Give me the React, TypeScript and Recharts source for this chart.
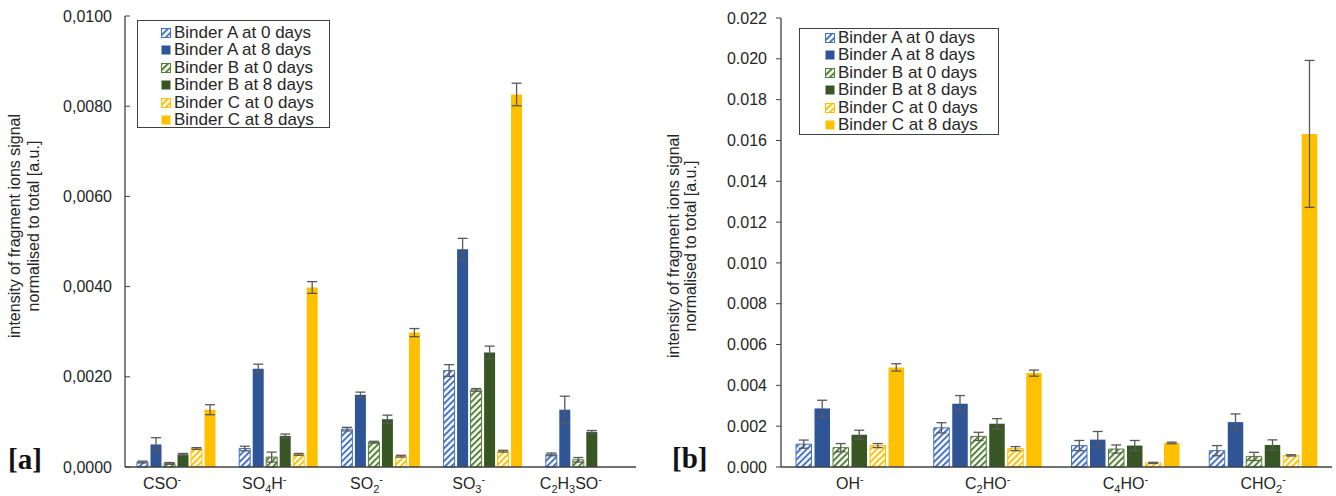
import { BarChart, Bar, XAxis, YAxis, ErrorBar, Legend } from 'recharts'

// [a] sulfur-containing fragments
const LEFT_CATEGORIES = ['CSO^-', 'SO_4H^-', 'SO_2^-', 'SO_3^-', 'C_2H_3SO^-']
const LEFT_A0 = [0.00011, 0.00041, 0.00084, 0.00214, 0.00028]
const LEFT_A0_ERR = [0.00002, 0.00005, 0.00004, 0.00013, 0.00003]
const LEFT_A8 = [0.0005, 0.00218, 0.0016, 0.00483, 0.00127]
const LEFT_A8_ERR = [0.00015, 0.0001, 0.00006, 0.00024, 0.0003]
const LEFT_B0 = [0.00008, 0.00022, 0.00055, 0.00171, 0.00016]
const LEFT_B0_ERR = [0.00002, 0.00011, 0.00002, 0.00003, 0.00005]
const LEFT_B8 = [0.00028, 0.00069, 0.00106, 0.00254, 0.00078]
const LEFT_B8_ERR = [0.00002, 0.00004, 0.00009, 0.00014, 0.00003]
const LEFT_C0 = [0.00041, 0.00028, 0.00024, 0.00035, 0]
const LEFT_C0_ERR = [0.00002, 0.00002, 0.00002, 0.00002, 0]
const LEFT_C8 = [0.00127, 0.00398, 0.00298, 0.00826, 0]
const LEFT_C8_ERR = [0.00011, 0.00013, 0.00009, 0.00025, 0]
const LEFT_TICKS = [0, 0.002, 0.004, 0.006, 0.008, 0.01]

// [b] oxygen-containing fragments
const RIGHT_CATEGORIES = ['OH^-', 'C_2HO^-', 'C_4HO^-', 'CHO_2^-']
const RIGHT_A0 = [0.00112, 0.00192, 0.00105, 0.0008]
const RIGHT_A0_ERR = [0.0002, 0.00025, 0.00025, 0.00025]
const RIGHT_A8 = [0.00287, 0.0031, 0.00134, 0.0022]
const RIGHT_A8_ERR = [0.0004, 0.0004, 0.0004, 0.0004]
const RIGHT_B0 = [0.00095, 0.0015, 0.00088, 0.00052]
const RIGHT_B0_ERR = [0.0002, 0.0002, 0.0002, 0.0002]
const RIGHT_B8 = [0.00158, 0.00212, 0.00105, 0.00108]
const RIGHT_B8_ERR = [0.00022, 0.00025, 0.00025, 0.00025]
const RIGHT_C0 = [0.00105, 0.0009, 0.0002, 0.00057]
const RIGHT_C0_ERR = [0.0001, 0.0001, 0.00003, 0.00003]
const RIGHT_C8 = [0.00488, 0.0046, 0.00118, 0.01632]
const RIGHT_C8_ERR = [0.00018, 0.00015, 0.00004, 0.0036]
const RIGHT_TICKS = [0, 0.002, 0.004, 0.006, 0.008, 0.01, 0.012, 0.014, 0.016, 0.018, 0.02, 0.022]

const SERIES = [
  { key: 'a0', name: 'Binder A at 0 days', color: '#4472C4', hatched: true },
  { key: 'a8', name: 'Binder A at 8 days', color: '#2F5597', hatched: false },
  { key: 'b0', name: 'Binder B at 0 days', color: '#548235', hatched: true },
  { key: 'b8', name: 'Binder B at 8 days', color: '#375623', hatched: false },
  { key: 'c0', name: 'Binder C at 0 days', color: '#FFC000', hatched: true },
  { key: 'c8', name: 'Binder C at 8 days', color: '#FFC000', hatched: false },
]

const FONT = '"Liberation Sans", Arial, sans-serif'
const AXIS = '#404040'
const TEXT = '#262626'
const ERR = '#595959'

const LEFT_PLOT_X = 125
const RIGHT_PLOT_X = 131

function buildRows(cats: string[], cols: number[][][]) {
  return cats.map((cat, i) => {
    const row: Record<string, any> = { cat }
    SERIES.forEach((s, k) => {
      row[s.key] = cols[k][0][i]
      row[s.key + 'Err'] = cols[k][1][i]
    })
    return row
  })
}

const leftData = buildRows(LEFT_CATEGORIES, [
  [LEFT_A0, LEFT_A0_ERR], [LEFT_A8, LEFT_A8_ERR], [LEFT_B0, LEFT_B0_ERR],
  [LEFT_B8, LEFT_B8_ERR], [LEFT_C0, LEFT_C0_ERR], [LEFT_C8, LEFT_C8_ERR],
])
const rightData = buildRows(RIGHT_CATEGORIES, [
  [RIGHT_A0, RIGHT_A0_ERR], [RIGHT_A8, RIGHT_A8_ERR], [RIGHT_B0, RIGHT_B0_ERR],
  [RIGHT_B8, RIGHT_B8_ERR], [RIGHT_C0, RIGHT_C0_ERR], [RIGHT_C8, RIGHT_C8_ERR],
])

// "SO_4H^-" -> SO, sub 4, H, sup -
function formula(label: string) {
  const segs: { t: string; k: string }[] = []
  let i = 0
  while (i < label.length) {
    const ch = label[i]
    if (ch === '_' || ch === '^') {
      segs.push({ t: label[i + 1], k: ch })
      i += 2
    } else {
      const last = segs[segs.length - 1]
      if (last && last.k === '') last.t += ch
      else segs.push({ t: ch, k: '' })
      i++
    }
  }
  let shift = 0
  return segs.map((s, j) => {
    const target = s.k === '_' ? 4 : s.k === '^' ? -6 : 0
    const dy = target - shift
    shift = target
    return (
      <tspan key={j} dy={dy} fontSize={s.k ? 11 : 16}>
        {s.t}
      </tspan>
    )
  })
}

function XTick({ x, y, payload, dx = 0 }: any) {
  return (
    <text x={x + dx} y={y + 22} textAnchor="middle" fill={TEXT} fontSize={16} fontFamily={FONT}>
      {formula(payload.value)}
    </text>
  )
}

function LeftYTick({ y, payload }: any) {
  return (
    <g>
      <line x1={LEFT_PLOT_X} x2={LEFT_PLOT_X + 5} y1={y} y2={y} stroke={AXIS} strokeWidth={1} />
      <text x={LEFT_PLOT_X - 13} y={y} dy={5.5} textAnchor="end" fill={TEXT} fontSize={16} fontFamily={FONT}>
        {payload.value.toFixed(4).replace('.', ',')}
      </text>
    </g>
  )
}

function Patterns({ prefix }: { prefix: string }) {
  return (
    <defs>
      {SERIES.filter(s => s.hatched).map(s => (
        <pattern
          key={s.key}
          id={`${prefix}-${s.key}`}
          patternUnits="userSpaceOnUse"
          width={4.5}
          height={4.5}
          patternTransform="rotate(45)"
        >
          <rect width={4.5} height={4.5} fill="#fff" />
          <rect width={2} height={4.5} fill={s.color} />
        </pattern>
      ))}
    </defs>
  )
}

function LegendBox({ prefix, width, height, padLeft, padTop }: any) {
  return (
    <div
      style={{
        width, height, boxSizing: 'border-box', border: `1px solid ${AXIS}`, background: '#fff',
        paddingLeft: padLeft, paddingTop: padTop, fontFamily: FONT, fontSize: 17, color: TEXT,
      }}
    >
      {SERIES.map(s => (
        <div key={s.key} style={{ display: 'flex', alignItems: 'center', height: 17.5, whiteSpace: 'nowrap' }}>
          <svg width={10} height={10} style={{ marginRight: 3 }}>
            <rect
              x={0.5} y={0.5} width={9} height={9}
              fill={s.hatched ? `url(#${prefix}-${s.key})` : s.color}
              stroke={s.color} strokeWidth={s.hatched ? 1 : 0}
            />
          </svg>
          <span>{s.name}</span>
        </div>
      ))}
    </div>
  )
}

function YTitle({ x1, x2, cy }: { x1: number; x2: number; cy: number }) {
  return (
    <g fill={TEXT} fontSize={16} fontFamily={FONT} textAnchor="middle">
      <text x={x1} y={cy} transform={`rotate(-90 ${x1} ${cy})`}>intensity of fragment ions signal</text>
      <text x={x2} y={cy} transform={`rotate(-90 ${x2} ${cy})`}>normalised to total [a.u.]</text>
    </g>
  )
}

function renderBars(prefix: string) {
  return SERIES.map(s => (
    <Bar
      key={s.key}
      dataKey={s.key}
      name={s.name}
      fill={s.hatched ? `url(#${prefix}-${s.key})` : s.color}
      stroke={s.hatched ? s.color : 'none'}
      strokeWidth={1}
      isAnimationActive={false}
    >
      <ErrorBar dataKey={s.key + 'Err'} width={5} stroke={ERR} strokeWidth={1.3} isAnimationActive={false} />
    </Bar>
  ))
}

export default function App() {
  return (
    <div style={{ position: 'absolute', left: 0, top: 0, width: 1336, height: 496, background: '#fff', fontFamily: FONT }}>
      <div style={{ position: 'absolute', left: 0, top: 0 }}>
        <BarChart
          width={650}
          height={496}
          data={leftData}
          margin={{ top: 16, right: 14, bottom: 0, left: 0 }}
          barSize={11}
          barGap={2.5}
        >
          <Patterns prefix="l" />
          <XAxis
            dataKey="cat"
            height={29}
            tickLine={false}
            tickSize={0}
            tickMargin={0}
            interval={0}
            axisLine={{ stroke: AXIS, strokeWidth: 1.3 }}
            tick={<XTick dx={-14} />}
          />
          <XAxis xAxisId="top" orientation="top" dataKey="cat" height={0} tick={false} tickLine={false} axisLine={{ stroke: AXIS, strokeWidth: 1.3 }} />
          <YAxis
            width={LEFT_PLOT_X}
            domain={[0, 0.01]}
            ticks={LEFT_TICKS}
            interval={0}
            tickLine={false}
            tickSize={0}
            tickMargin={0}
            axisLine={{ stroke: AXIS, strokeWidth: 1.3 }}
            tick={<LeftYTick />}
          />
          <YAxis yAxisId="r" orientation="right" width={0} domain={[0, 0.01]} tick={false} tickLine={false} axisLine={{ stroke: AXIS, strokeWidth: 1.3 }} />
          <Legend
            layout="vertical"
            align="center"
            verticalAlign="middle"
            wrapperStyle={{ left: 137, top: 20, width: 193, height: 108 }}
            content={() => <LegendBox prefix="l" width={193} height={108} padLeft={23} padTop={3} />}
          />
          {renderBars('l')}
          <YTitle x1={20} x2={39} cy={226} />
        </BarChart>
      </div>
      <div style={{ position: 'absolute', left: 650, top: 0 }}>
        <BarChart
          width={686}
          height={496}
          data={rightData}
          margin={{ top: 18, right: 4, bottom: 0, left: 0 }}
          barSize={15.5}
          barGap={3}
        >
          <Patterns prefix="r" />
          <XAxis
            dataKey="cat"
            height={29}
            tickLine={false}
            tickSize={0}
            tickMargin={0}
            interval={0}
            axisLine={{ stroke: AXIS, strokeWidth: 1.3 }}
            tick={<XTick dx={0} />}
          />
          <XAxis xAxisId="top" orientation="top" dataKey="cat" height={0} tick={false} tickLine={false} axisLine={{ stroke: AXIS, strokeWidth: 1.3 }} />
          <YAxis
            width={RIGHT_PLOT_X}
            domain={[0, 0.022]}
            ticks={RIGHT_TICKS}
            interval={0}
            tickSize={5}
            tickMargin={9}
            tickLine={{ stroke: AXIS }}
            axisLine={{ stroke: AXIS, strokeWidth: 1.3 }}
            tick={{ fill: TEXT, fontSize: 16, fontFamily: FONT }}
            tickFormatter={(v: number) => v.toFixed(3)}
          />
          <YAxis yAxisId="r" orientation="right" width={0} domain={[0, 0.022]} tick={false} tickLine={false} axisLine={{ stroke: AXIS, strokeWidth: 1.3 }} />
          <Legend
            layout="vertical"
            align="center"
            verticalAlign="middle"
            wrapperStyle={{ left: 149, top: 28, width: 200, height: 107 }}
            content={() => <LegendBox prefix="r" width={200} height={107} padLeft={25} padTop={0} />}
          />
          {renderBars('r')}
          <YTitle x1={29} x2={46} cy={246} />
        </BarChart>
      </div>
      <div style={{ position: 'absolute', left: 8, top: 443, fontSize: 29, fontWeight: 'bold', fontFamily: '"Liberation Serif", "Times New Roman", serif', lineHeight: '32px', color: '#111' }}>
        [a]
      </div>
      <div style={{ position: 'absolute', left: 672, top: 442, fontSize: 29, fontWeight: 'bold', fontFamily: '"Liberation Serif", "Times New Roman", serif', lineHeight: '32px', color: '#111' }}>
        [b]
      </div>
    </div>
  )
}
